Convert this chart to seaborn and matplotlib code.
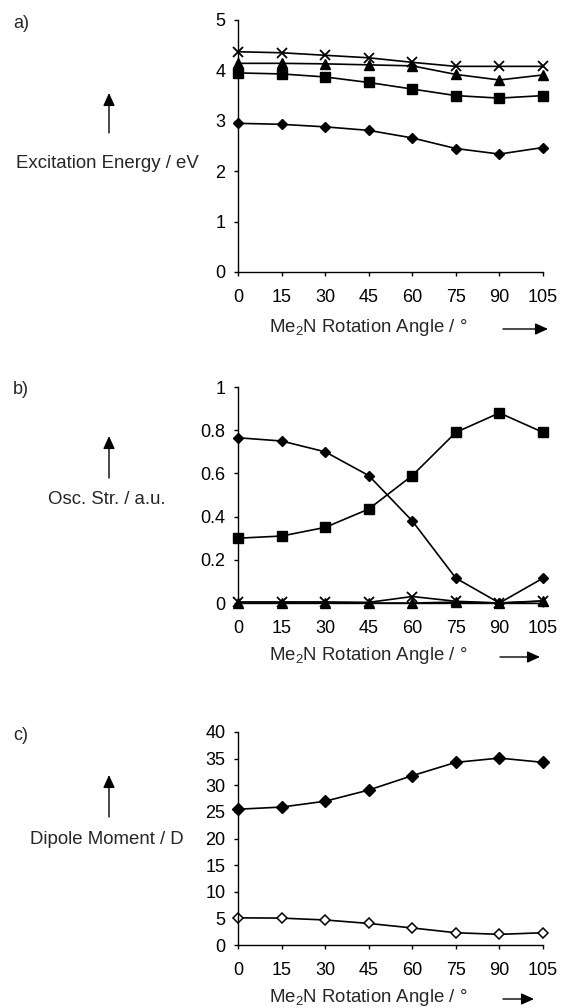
import matplotlib
matplotlib.use("Agg")
import matplotlib.pyplot as plt
import seaborn as sns

# Rotation angle of the Me2N group (degrees)
angles = [0, 15, 30, 45, 60, 75, 90, 105]

# a) Excitation energies (eV) of the four lowest states
exc_state1 = [2.95, 2.93, 2.88, 2.81, 2.66, 2.45, 2.34, 2.47]
exc_state2 = [3.95, 3.93, 3.87, 3.76, 3.63, 3.50, 3.45, 3.50]
exc_state3 = [4.14, 4.14, 4.13, 4.11, 4.09, 3.92, 3.81, 3.91]
exc_state4 = [4.37, 4.35, 4.30, 4.25, 4.16, 4.08, 4.08, 4.08]

# b) Oscillator strengths (a.u.)
osc_state1 = [0.765, 0.75, 0.70, 0.59, 0.38, 0.115, 0.0, 0.115]
osc_state2 = [0.30, 0.31, 0.35, 0.435, 0.59, 0.79, 0.88, 0.79]
osc_state3 = [0.0, 0.0, 0.0, 0.0, 0.0, 0.004, 0.0, 0.008]
osc_state4 = [0.005, 0.005, 0.005, 0.003, 0.03, 0.008, 0.0, 0.01]

# c) Dipole moments (D)
dip_excited = [25.5, 25.9, 27.0, 29.1, 31.8, 34.3, 35.1, 34.3]
dip_ground = [5.1, 5.05, 4.7, 4.05, 3.2, 2.3, 2.0, 2.3]

a_yticks = [0, 1, 2, 3, 4, 5]
b_yticks = [0, 0.2, 0.4, 0.6, 0.8, 1]
c_yticks = [0, 5, 10, 15, 20, 25, 30, 35, 40]

sns.set_style("ticks")
plt.rcParams["font.family"] = ["Liberation Sans", "DejaVu Sans"]
plt.rcParams["mathtext.default"] = "regular"
plt.rcParams["axes.linewidth"] = 1.0
plt.rcParams["xtick.major.width"] = 1.0
plt.rcParams["ytick.major.width"] = 1.0
plt.rcParams["xtick.major.size"] = 3
plt.rcParams["ytick.major.size"] = 3
plt.rcParams["xtick.color"] = "black"
plt.rcParams["ytick.color"] = "black"
plt.rcParams["axes.edgecolor"] = "black"

W, H = 561, 1008
FS = 13
fig = plt.figure(figsize=(W / 100, H / 100), dpi=100)


def axes_px(left, top, right, bottom):
    return fig.add_axes([left / W, 1 - bottom / H, (right - left) / W, (bottom - top) / H])


def fx(x):
    return x / W


def fy(y):
    return 1 - y / H


def series(ax, y, marker, ms, mfc="black", mew=1.0):
    sns.lineplot(x=angles, y=y, ax=ax, color="black", linewidth=1.2,
                 marker=marker, markersize=ms, markerfacecolor=mfc,
                 markeredgecolor="black", markeredgewidth=mew,
                 clip_on=False, legend=False)


def style(ax, ymax, yticks):
    ax.set_xlim(0, 105)
    ax.set_ylim(0, ymax)
    ax.set_xticks(angles)
    ax.set_yticks(yticks)
    ax.set_yticklabels([f"{v:g}" for v in yticks])
    ax.tick_params(axis="x", labelsize=FS, pad=9)
    ax.tick_params(axis="y", labelsize=FS, pad=6)
    ax.set_xlabel("")
    ax.set_ylabel("")
    sns.despine(ax=ax)


def arrow(x0, y0, x1, y1):
    fig.add_artist(matplotlib.patches.FancyArrowPatch(
        (fx(x0), fy(y0)), (fx(x1), fy(y1)), transform=fig.transFigure,
        arrowstyle="-|>,head_length=0.55,head_width=0.25",
        mutation_scale=14, color="black", linewidth=1.0, shrinkA=0, shrinkB=0))


xlabel = "Me$_2$N Rotation Angle / °"

# a) excitation energy
ax_a = axes_px(238, 20, 543, 272)
series(ax_a, exc_state1, "D", 5.6)
series(ax_a, exc_state2, "s", 7.5)
series(ax_a, exc_state3, "^", 7.5)
series(ax_a, exc_state4, "x", 7.5, mew=1.3)
style(ax_a, 5, a_yticks)

# b) oscillator strength
ax_b = axes_px(238, 387, 543, 603)
series(ax_b, osc_state1, "D", 5.6)
series(ax_b, osc_state2, "s", 7.5)
series(ax_b, osc_state3, "^", 7.5)
series(ax_b, osc_state4, "x", 7.5, mew=1.3)
style(ax_b, 1, b_yticks)

# c) dipole moment
ax_c = axes_px(238, 732, 543, 945)
series(ax_c, dip_excited, "D", 6.0)
series(ax_c, dip_ground, "D", 5.6, mfc="white", mew=1.1)
style(ax_c, 40, c_yticks)

# panel letters, y-quantity labels with upward arrows
for letter, ly, text, ty, a_top, a_bot in [
        ("a)", 23, "Excitation Energy / eV", 163, 93, 133),
        ("b)", 390, "Osc. Str. / a.u.", 500, 436, 478),
        ("c)", 735, "Dipole Moment / D", 839, 775, 817)]:
    fig.text(fx(13), fy(ly), letter, fontsize=FS, ha="left", va="center")
    fig.text(fx(107), fy(ty), text, fontsize=13.4, ha="center", va="center")
    arrow(109, a_bot, 109, a_top)

# x-axis labels with rightward arrows
for ty, ax0, ax1 in [(327, 503, 548), (655, 500, 540), (997, 503, 534)]:
    fig.text(fx(368), fy(ty), xlabel, fontsize=13.4, ha="center", va="center")
    arrow(ax0, ty + 2, ax1, ty + 2)

fig.savefig("out.png", dpi=100)
